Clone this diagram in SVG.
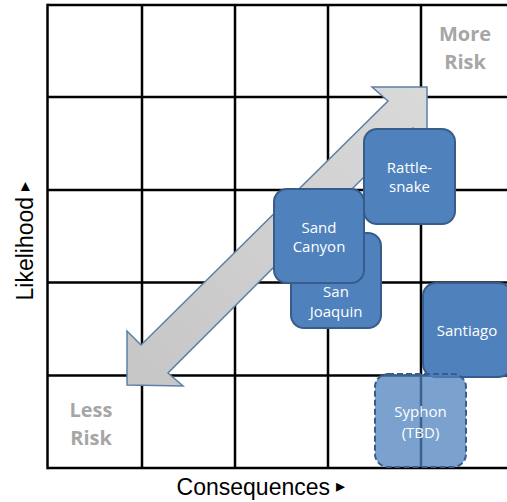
<svg xmlns="http://www.w3.org/2000/svg" width="507" height="502" viewBox="0 0 507 502">
<style>
.grid line{stroke:#000;stroke-width:2.5}
.node rect{fill:#4f81bd;stroke:#385d8a;stroke-width:2}
.node text,.lbl{font-family:"Open Sans","Liberation Sans",sans-serif;font-size:15px;fill:#fff;text-anchor:middle}
.risk{font-family:"Open Sans","Liberation Sans",sans-serif;font-size:20px;font-weight:bold;fill:#a6a6a6;text-anchor:middle}
.axis{font-family:"Liberation Sans",Arial,sans-serif;font-size:23px;fill:#000;text-anchor:middle}
.tri{font-size:18px}
</style>
<defs>
<linearGradient id="ag" x1="0" y1="1" x2="1" y2="0">
<stop offset="0" stop-color="#c6c6c6"/>
<stop offset="1" stop-color="#d9d9d9"/>
</linearGradient>
</defs>
<rect width="507" height="502" fill="#fff"/>
<g id="grid" class="grid">
<line x1="47.5" y1="5" x2="507" y2="5"/>
<line x1="47.5" y1="97" x2="507" y2="97"/>
<line x1="47.5" y1="190" x2="507" y2="190"/>
<line x1="47.5" y1="282.5" x2="507" y2="282.5"/>
<line x1="47.5" y1="375.5" x2="507" y2="375.5"/>
<line x1="47.5" y1="468" x2="507" y2="468"/>
<line x1="47.5" y1="3.8" x2="47.5" y2="469.2"/>
<line x1="142" y1="5" x2="142" y2="468"/>
<line x1="235" y1="5" x2="235" y2="468"/>
<line x1="328" y1="5" x2="328" y2="468"/>
<line x1="421" y1="5" x2="421" y2="468"/>
</g>
<g id="connectors">
<polygon id="risk-arrow" points="427,87 372,87 388,101 141,345 127,331 127,385 183,386 168,373 413,128 427,142" fill="url(#ag)" stroke="#5d7fa6" stroke-width="1.5" stroke-linejoin="miter"/>
</g>
<g id="more-risk"><text class="risk" x="465" y="41">More</text><text class="risk" x="465" y="69">Risk</text></g>
<g id="less-risk"><text class="risk" x="91" y="417">Less</text><text class="risk" x="91" y="445">Risk</text></g>
<g id="san-joaquin" class="node"><rect x="291" y="233" width="90" height="95" rx="13"/><text x="336" y="297">San</text><text x="336" y="317">Joaquin</text></g>
<g id="sand-canyon" class="node"><rect x="274" y="189" width="90" height="94" rx="13"/><text x="319" y="232.5">Sand</text><text x="319" y="252">Canyon</text></g>
<g id="rattlesnake" class="node"><rect x="364" y="129" width="91" height="95" rx="13"/><text x="409.5" y="173">Rattle-</text><text x="409.5" y="192">snake</text></g>
<g id="santiago" class="node"><rect x="423" y="283" width="89" height="94" rx="13"/><text x="467" y="336">Santiago</text></g>
<g id="syphon" class="node"><rect x="375" y="374" width="91" height="93" rx="13" style="fill-opacity:0.75;stroke-dasharray:6,3"/><text x="420.5" y="417">Syphon</text><text x="420.5" y="438">(TBD)</text></g>
<text class="axis" x="261" y="495">Consequences <tspan class="tri" dy="-3">▸</tspan></text>
<text class="axis" transform="translate(33,241) rotate(-90)">Likelihood <tspan class="tri" dy="-3">▸</tspan></text>
</svg>
